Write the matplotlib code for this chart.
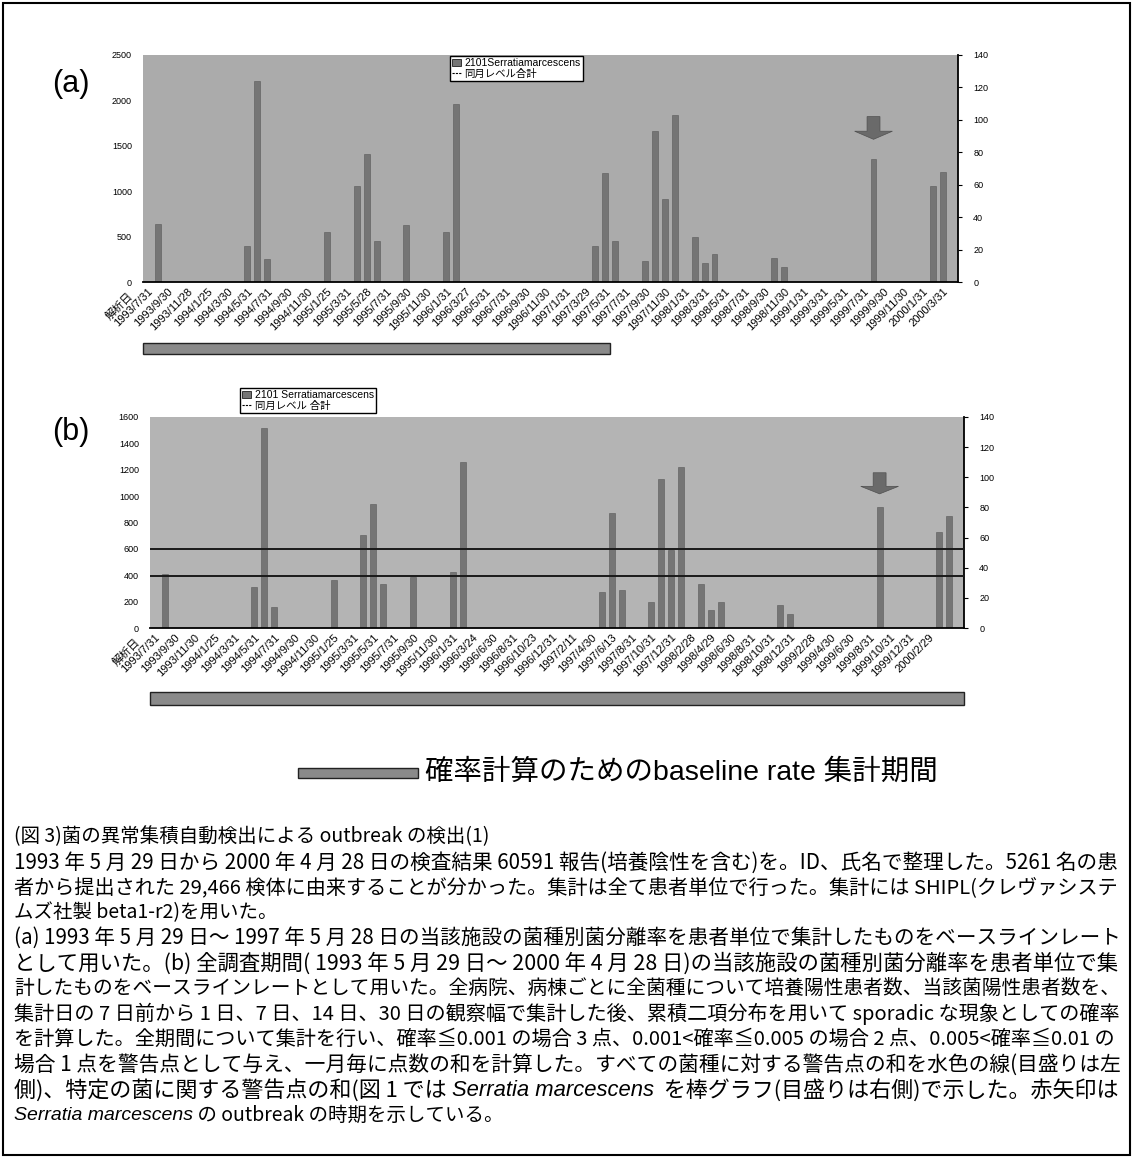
import matplotlib
matplotlib.use("Agg")
import matplotlib.pyplot as plt
import matplotlib.transforms as mtransforms
from matplotlib.patches import Patch, Rectangle
from matplotlib.lines import Line2D

plt.rcParams['font.family'] = ['Liberation Sans', 'Noto Sans CJK JP', 'DejaVu Sans']
JP = ['Noto Sans CJK JP', 'DejaVu Sans']

W, H = 1133, 1158

# ---- data (one value per month, 1993/7 .. 2000/4) ----
score_a = [0, 36, 0, 0, 0, 0, 0, 0, 0, 0,
           22, 124, 14, 0, 0, 0, 0, 0, 31, 0,
           0, 59, 79, 25, 0, 0, 35, 0, 0, 0,
           31, 110, 0, 0, 0, 0, 0, 0, 0, 0,
           0, 0, 0, 0, 0, 22, 67, 25, 0, 0,
           13, 93, 51, 103, 0, 28, 12, 17, 0, 0,
           0, 0, 0, 15, 9, 0, 0, 0, 0, 0,
           0, 0, 0, 76, 0, 0, 0, 0, 0, 59,
           68, 0]
score_b = [0, 36, 0, 0, 0, 0, 0, 0, 0, 0,
           27, 133, 14, 0, 0, 0, 0, 0, 32, 0,
           0, 62, 82, 29, 0, 0, 34, 0, 0, 0,
           37, 110, 0, 0, 0, 0, 0, 0, 0, 0,
           0, 0, 0, 0, 0, 24, 76, 25, 0, 0,
           17, 99, 52, 107, 0, 29, 12, 17, 0, 0,
           0, 0, 0, 15, 9, 0, 0, 0, 0, 0,
           0, 0, 0, 80, 0, 0, 0, 0, 0, 64,
           74, 0]
level_b = [600, 395]          # 同月レベル合計 (left scale), panel (b)

labels_a = ['1993/7/31', '1993/9/30', '1993/11/28', '1994/1/25', '1994/3/30', '1994/5/31',
            '1994/7/31', '1994/9/30', '1994/11/30', '1995/1/25', '1995/3/31', '1995/5/28',
            '1995/7/31', '1995/9/30', '1995/11/30', '1996/1/31', '1996/3/27', '1996/5/31',
            '1996/7/31', '1996/9/30', '1996/11/30', '1997/1/31', '1997/3/29', '1997/5/31',
            '1997/7/31', '1997/9/30', '1997/11/30', '1998/1/31', '1998/3/31', '1998/5/31',
            '1998/7/31', '1998/9/30', '1998/11/30', '1999/1/31', '1999/3/31', '1999/5/31',
            '1999/7/31', '1999/9/30', '1999/11/30', '2000/1/31', '2000/3/31']
labels_b = ['1993/7/31', '1993/9/30', '1993/11/30', '1994/1/25', '1994/3/31', '1994/5/31',
            '1994/7/31', '1994/9/30', '1994/11/30', '1995/1/25', '1995/3/31', '1995/5/31',
            '1995/7/31', '1995/9/30', '1995/11/30', '1996/1/31', '1996/3/24', '1996/6/30',
            '1996/8/31', '1996/10/23', '1996/12/31', '1997/2/11', '1997/4/30', '1997/6/13',
            '1997/8/31', '1997/10/31', '1997/12/31', '1998/2/28', '1998/4/29', '1998/6/30',
            '1998/8/31', '1998/10/31', '1998/12/31', '1999/2/28', '1999/4/30', '1999/6/30',
            '1999/8/31', '1999/10/31', '1999/12/31', '2000/2/29']

baseline_a = (0, 46)          # baseline period, month index
baseline_b = (0, 81)
outbreak_month = 73
arrow_a = (102, 88)           # arrow top / tip, right scale
arrow_b = (103, 89)

series_name_a = '2101Serratiamarcescens'
series_name_b = '2101 Serratiamarcescens'
level_name_a = '同月レベル合計'
level_name_b = '同月レベル 合計'

caption = [
    ([('(図 3)菌の異常集積自動検出による outbreak の検出(1)', 0)], False),
    ([('1993 年 5 月 29 日から 2000 年 4 月 28 日の検査結果 60591 報告(培養陰性を含む)を。ID、氏名で整理した。5261 名の患', 0)], True),
    ([('者から提出された 29,466 検体に由来することが分かった。集計は全て患者単位で行った。集計には SHIPL(クレヴァシステ', 0)], True),
    ([('ムズ社製 beta1-r2)を用いた。', 0)], False),
    ([('(a) 1993 年 5 月 29 日～ 1997 年 5 月 28 日の当該施設の菌種別菌分離率を患者単位で集計したものをベースラインレート', 0)], True),
    ([('として用いた。(b) 全調査期間( 1993 年 5 月 29 日～ 2000 年 4 月 28 日)の当該施設の菌種別菌分離率を患者単位で集', 0)], True),
    ([('計したものをベースラインレートとして用いた。全病院、病棟ごとに全菌種について培養陽性患者数、当該菌陽性患者数を、', 0)], True),
    ([('集計日の 7 日前から 1 日、7 日、14 日、30 日の観察幅で集計した後、累積二項分布を用いて sporadic な現象としての確率', 0)], True),
    ([('を計算した。全期間について集計を行い、確率≦0.001 の場合 3 点、0.001<確率≦0.005 の場合 2 点、0.005<確率≦0.01 の', 0)], True),
    ([('場合 1 点を警告点として与え、一月毎に点数の和を計算した。すべての菌種に対する警告点の和を水色の線(目盛りは左', 0)], True),
    ([('側)、特定の菌に関する警告点の和(図 1 では ', 0), ('Serratia marcescens', 1),
      ('  を棒グラフ(目盛りは右側)で示した。赤矢印は', 0)], True),
    ([('Serratia marcescens', 1), (' の outbreak の時期を示している。', 0)], False),
]

BG = '#ababab'
BAR = '#757575'

fig = plt.figure(figsize=(W / 100, H / 100), dpi=100)


def fig_rect(x0, y0, x1, y1):
    return [x0 / W, 1 - y1 / H, (x1 - x0) / W, (y1 - y0) / H]


def panel(box, scores, labels, left_max, left_step, baseline, bl_y, arrow, levels,
          leg_xy, names, tag, tag_y, bg):
    axl = fig.add_axes(fig_rect(*box))
    axr = axl.twinx()
    axr.patch.set_visible(True)
    axr.patch.set_facecolor(bg)
    axl.set_zorder(axr.get_zorder() + 1)
    axl.patch.set_visible(False)

    x = list(range(len(scores)))
    axr.bar(x, scores, width=0.6, color=BAR, edgecolor='#5a5a5a', linewidth=0.4)
    axr.set_ylim(0, 140)
    axr.set_yticks(range(0, 141, 20))
    axr.arrow(outbreak_month, arrow[0], 0, arrow[1] - arrow[0], width=1.3, head_width=3.8,
              head_length=5, length_includes_head=True, fc='#6a6a6a', ec='#505050', lw=0.5)

    for v in levels:
        axl.axhline(v, color='#1a1a1a', lw=1.4)
    axl.set_ylim(0, left_max)
    axl.set_yticks(range(0, left_max + 1, left_step))
    axl.set_xlim(-0.5, len(scores) - 0.5)
    axl.set_xticks(range(0, 2 * len(labels), 2))
    axl.set_xticklabels(labels, rotation=45, ha='right', rotation_mode='anchor', fontsize=8)
    axl.tick_params(axis='x', length=0, pad=3)
    axl.tick_params(axis='y', length=0, pad=8, labelsize=6.5)
    axr.tick_params(axis='y', length=3, width=0.8, pad=8, labelsize=6.5)
    axr.tick_params(axis='x', length=0)
    axl.annotate('解析日', xy=(0, 0), xycoords=('data', 'axes fraction'), xytext=(-15, -6),
                 textcoords='offset points', rotation=45, ha='right', va='top',
                 rotation_mode='anchor', fontsize=8)

    for ax in (axl, axr):
        for s in ax.spines.values():
            s.set_visible(False)
    axr.spines['bottom'].set_visible(True)
    axr.spines['right'].set_visible(True)
    axr.spines['bottom'].set_linewidth(1.3)
    axr.spines['right'].set_linewidth(1.3)

    # baseline period bar under the axis
    tr = mtransforms.blended_transform_factory(axl.transData, fig.transFigure)
    fig.patches.append(Rectangle((baseline[0] - 0.5, 1 - bl_y[1] / H), baseline[1] - baseline[0] + 1,
                                 (bl_y[1] - bl_y[0]) / H, transform=tr, facecolor='#8a8a8a',
                                 edgecolor='#222222', lw=1.0))

    handles = [Patch(facecolor=BAR, edgecolor='black', lw=0.5, label=names[0]),
               Line2D([], [], color='black', lw=0.8, ls=(0, (2, 1)), label=names[1])]
    fig.legend(handles=handles, loc='upper left', bbox_to_anchor=(leg_xy[0] / W, 1 - leg_xy[1] / H),
               fontsize=7.5, frameon=True, fancybox=False, edgecolor='black', framealpha=1,
               borderpad=0.2, handlelength=0.9, handleheight=0.6, handletextpad=0.3,
               labelspacing=0.05, borderaxespad=0)
    fig.text(52 / W, 1 - tag_y / H, tag, fontsize=22, va='center', ha='left')


panel((143, 55, 958, 282), score_a, labels_a, 2500, 500, baseline_a, (343, 354), arrow_a, [],
      (450, 56), (series_name_a, level_name_a), '(a)', 84, BG)
panel((150, 417, 964, 628), score_b, labels_b, 1600, 200, baseline_b, (692, 705), arrow_b, level_b,
      (240, 388), (series_name_b, level_name_b), '(b)', 432, '#b4b4b4')

# big legend for baseline bar
fig.patches.append(Rectangle((298 / W, 1 - 778 / H), 120 / W, 10 / H, transform=fig.transFigure,
                             facecolor='#8a8a8a', edgecolor='#222222', lw=1.0))
fig.text(425 / W, 1 - 773 / H, '確率計算のためのbaseline rate 集計期間', fontsize=20.5, va='center', ha='left')

# caption
renderer = fig.canvas.get_renderer()


def put_line(y_px, pieces, size):
    x = 14
    made = []
    for txt, ital in pieces:
        if ital:
            t = fig.text(x / W, 1 - y_px / H, txt, fontsize=size, style='italic',
                         family=['Liberation Sans', 'DejaVu Sans'], va='center')
        else:
            t = fig.text(x / W, 1 - y_px / H, txt, fontsize=size, family=JP, va='center')
        made.append(t)
        x += t.get_window_extent(renderer).width
    return made, x - 14


base = 14
for k, (pieces, full) in enumerate(caption):
    y = 837 + k * 25.3
    made, width = put_line(y, pieces, base)
    if full:
        for t in made:
            t.remove()
        put_line(y, pieces, base * 1108 / width)

fig.patches.append(Rectangle((3 / W, 1 - 1155 / H), 1127 / W, 1152 / H, transform=fig.transFigure,
                             fill=False, edgecolor='black', lw=1.5))

fig.savefig('out.png', dpi=100)
